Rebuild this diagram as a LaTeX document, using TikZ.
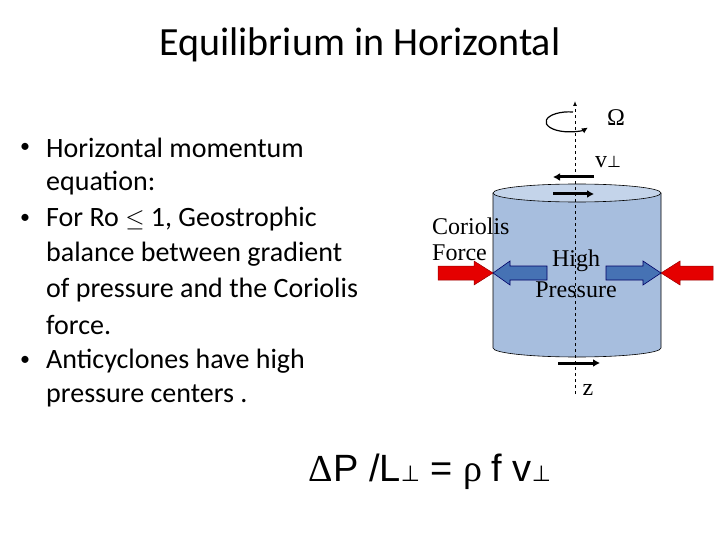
\documentclass[tikz,border=0pt]{standalone}
\usepackage{fontspec}
\setmainfont{Carlito}
\newfontfamily\tnr{Liberation Serif}
\newfontfamily\ari{Liberation Sans}
\newfontfamily\djv{DejaVu Sans}
\usetikzlibrary{arrows.meta}
\begin{document}
\begin{tikzpicture}[x=1pt,y=-1pt,
  bl/.style={anchor=west,font=\fontsize{28}{28}\selectfont,inner sep=0},
  bu/.style={anchor=west,font=\fontsize{20}{20}\selectfont,inner sep=0},
  serif/.style={font=\tnr\fontsize{24}{26}\selectfont,inner sep=0},
  vec/.style={line width=3pt,-{Latex[length=7pt,width=8pt]}},
  redarr/.style={fill=red!90!black,draw=red!60!black,line width=0.5pt},
  bluarr/.style={fill={rgb,255:red,70;green,114;blue,180},draw=blue!40!black,line width=0.6pt}]
\useasboundingbox (0,0) rectangle (720,540);
\node[font=\fontsize{40}{40}\selectfont] (title) at (360,45) {Equilibrium in Horizontal};
\node[bu] (b1) at (20,148) {•};
\node[bl] (t1) at (46,148) {Horizontal momentum};
\node[bl] (t2) at (46,183) {equation:};
\node[bu] (b2) at (20,219) {•};
\node[bl] (t3) at (46,219) {For Ro $\leq$ 1, Geostrophic};
\node[bl] (t4) at (46,254) {balance between gradient};
\node[bl] (t5) at (46,290) {of pressure and the Coriolis};
\node[bl] (t6) at (46,325) {force.};
\node[bu] (b3) at (20,361) {•};
\node[bl] (t7) at (46,361) {Anticyclones have high};
\node[bl] (t8) at (46,396) {pressure centers .};
% cylinder
\fill[fill={rgb,255:red,167;green,190;blue,222}] (493,193) -- (493,348) arc[start angle=180,end angle=0,x radius=84,y radius=9] -- (661,193) -- cycle;
\draw[line width=0.6pt] (493,193) -- (493,348) arc[start angle=180,end angle=0,x radius=84,y radius=9] -- (661,193);
\filldraw[fill={rgb,255:red,196;green,212;blue,234},line width=0.6pt] (577,193) ellipse[x radius=84,y radius=9];
% axis
\coordinate (ztop) at (575,101);
\coordinate (zbot) at (575,394);
\draw[dashed,line width=1pt,-{Latex[length=5pt,width=4pt]}] (zbot) -- (ztop);
% rotation
\draw[line width=1.2pt,-{Latex[length=6pt,width=6pt]}] (573,112) arc[start angle=-80,end angle=-325,x radius=23,y radius=10];
\node[serif] (om) at (616,118) {Ω};
% v arrows
\draw[vec] (594,177) -- (553,177);
\draw[vec] (553,194) -- (594,194);
\draw[vec] (558,363) -- (600,363);
\node[serif] (v) at (608,162) {v\djv\fontsize{16}{16}\selectfont ⊥};
\node[serif] (z) at (588,390) {z};
% force arrows
\draw[redarr] (438,266) -- (474,266) -- (474,261) -- (493,273) -- (474,285) -- (474,280) -- (438,280) -- cycle;
\draw[redarr] (713,266) -- (680,266) -- (680,261) -- (661,273) -- (680,285) -- (680,280) -- (713,280) -- cycle;
\draw[bluarr] (547,266) -- (510,266) -- (510,261) -- (493,273) -- (510,285) -- (510,280) -- (547,280) -- cycle;
\draw[bluarr] (606,266) -- (643,266) -- (643,261) -- (661,273) -- (643,285) -- (643,280) -- (606,280) -- cycle;
\node[serif,anchor=west] (cor) at (432,226) {Coriolis};
\node[serif,anchor=west] (for) at (432,253) {Force};
\node[serif] (hi) at (576,261) {High};
\node[serif] (pr) at (576,290) {Pressure};
% equation
\node[font=\ari\fontsize{38}{38}\selectfont] (eq) at (430,472) {\tnr Δ\ari P /L\djv\fontsize{22}{22}\selectfont ⊥\ari\fontsize{38}{38}\selectfont{} = \tnr ρ \ari f v\djv\fontsize{22}{22}\selectfont ⊥};
\end{tikzpicture}
\end{document}
